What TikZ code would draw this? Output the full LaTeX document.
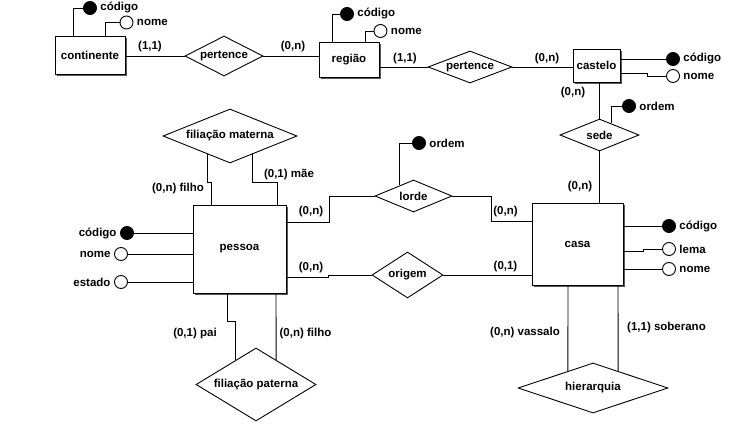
\documentclass[tikz,border=0pt]{standalone}
\usepackage{fontspec}
\setmainfont{Liberation Sans}
\usetikzlibrary{shapes.geometric,shadows,calc}
\tikzset{
  every node/.style={font=\bfseries\fontsize{11.5}{13}\selectfont},
  conn/.style={draw=black, line width=0.9pt},
  ent/.style={rectangle, draw, line width=0.9pt, fill=white, inner sep=0pt,
    drop shadow={shadow xshift=2pt, shadow yshift=-2pt, fill=black!65, opacity=1}},
  rel/.style={diamond, draw, line width=0.9pt, fill=white, inner sep=0pt},
  attr/.style={circle, draw, line width=0.9pt, fill=white, inner sep=0pt, minimum size=13pt},
  keyattr/.style={attr, fill=black},
  card/.style={inner sep=0pt}
}
\begin{document}
\begin{tikzpicture}[x=1pt,y=-1pt]
\useasboundingbox[fill=white] (0,0) rectangle (730,425);

% entities
\node[ent, minimum width=70pt, minimum height=38pt] (cont) at (90,55) {continente};
\node[ent, minimum width=60pt, minimum height=35pt] (reg) at (349,59.5) {região};
\node[ent, minimum width=47pt, minimum height=33pt] (castelo) at (596.5,65.5) {castelo};
\node[ent, minimum width=93pt, minimum height=88pt] (pessoa) at (239.5,249) {pessoa};
\node[ent, minimum width=91pt, minimum height=82pt] (casa) at (577.5,244) {casa};

% relationships
\node[rel, minimum width=78pt, minimum height=40pt, label=center:pertence] (p1) at (224,56) {};
\node[rel, minimum width=84pt, minimum height=32pt, label=center:pertence] (p2) at (470,67) {};
\node[rel, minimum width=79pt, minimum height=32pt, label=center:sede] (sede) at (599.5,135) {};
\node[rel, minimum width=77pt, minimum height=32pt, label=center:lorde] (lorde) at (413.5,196) {};
\node[rel, minimum width=71pt, minimum height=46pt, label=center:origem] (origem) at (407.5,275) {};
\node[rel, minimum width=134pt, minimum height=54pt, label=center:{filiação materna}] (fm) at (230,136) {};
\node[rel, minimum width=120pt, minimum height=73pt, label=center:{filiação paterna}] (fp) at (256,384.5) {};
\node[rel, minimum width=150pt, minimum height=50pt, label=center:hierarquia] (hi) at (593,388) {};

% attributes
\node[keyattr, label=right:código] (cc) at (90,8) {};
\node[attr, label=right:nome] (cn) at (126.5,22.5) {};
\node[keyattr, label=right:código] (rc) at (347,14) {};
\node[attr, label=right:nome] (rn) at (380.5,31) {};
\node[keyattr, label=right:código] (kc) at (673,59) {};
\node[attr, label=right:nome] (kn) at (673,76) {};
\node[keyattr, label=right:ordem] (so) at (629,106) {};
\node[keyattr, label=right:ordem] (lo) at (419,143) {};
\node[keyattr, label=right:código] (hc) at (669,226) {};
\node[attr, label=right:lema] (hl) at (669,249) {};
\node[attr, label=right:nome] (hn) at (669,269) {};
\node[keyattr, label=left:código] (pc) at (127,233) {};
\node[attr, label=left:nome] (pn) at (121,254) {};
\node[attr, label=left:estado] (pe) at (121,282) {};

% attribute connectors
\draw[conn] ([xshift=-17pt]cont.north) |- (cc.west);
\draw[conn] ([xshift=15pt]cont.north) |- (cn.west);
\draw[conn] ([xshift=-17pt]reg.north) |- (rc.west);
\draw[conn] ([xshift=16pt]reg.north) |- (rn.west);
\draw[conn] (castelo.east |- kc.west) -- (kc.west);
\draw[conn] ([yshift=-7.5pt]castelo.east) -- ++(27,0) |- (kn.west);
\draw[conn] ($(sede.north)!0.3!(sede.east)$) |- (so.west);
\draw[conn] ($(lorde.west)!0.65!(lorde.north)$) |- (lo.west);
\draw[conn] (casa.east |- hc.west) -- (hc.west);
\draw[conn] ([yshift=-7pt]casa.east) -- ++(20,0) |- (hl.west);
\draw[conn] (casa.east |- hn.west) -- (hn.west);
\draw[conn] (pc.east) -- (pc.east -| pessoa.west);
\draw[conn] (pn.east) -- (pn.east -| pessoa.west);
\draw[conn] (pe.east) -- (pe.east -| pessoa.west);

% relationship connectors
\draw[conn] (cont.east |- p1.west) -- (p1.west);
\draw[conn] (p1.east) -- (p1.east -| reg.west);
\draw[conn] (reg.east |- p2.west) -- (p2.west);
\draw[conn] (p2.east) -- (p2.east -| castelo.west);
\draw[conn] (castelo.south -| sede.north) -- (sede.north);
\draw[conn] (sede.south) -- (sede.south |- casa.north);
\draw[conn] ([yshift=27pt]pessoa.east) -- ++(43,0) |- (lorde.west);
\draw[conn] (lorde.east) -- ++(39,0) |- ([yshift=23pt]casa.west);
\draw[conn] ([yshift=-28pt]pessoa.east) -- ++(42,0) |- (origem.west);
\draw[conn] (origem.east) -- (origem.east -| casa.west);
\draw[conn] ([xshift=-28.5pt]pessoa.north) -- ++(0,-22) -| ($(fm.west)!0.67!(fm.south)$);
\draw[conn] ([xshift=37.5pt]pessoa.north) -- ++(0,-22) -| ($(fm.south)!0.33!(fm.east)$);
\draw[conn] ([xshift=-12.5pt]pessoa.south) -- ++(0,28) -| ($(fp.west)!0.667!(fp.north)$);
\draw[conn] ([xshift=36.5pt]pessoa.south) -- ($(fp.north)!0.333!(fp.east)$);
\draw[conn] ([xshift=-9.5pt]casa.south) -- ($(hi.west)!0.667!(hi.north)$);
\draw[conn] ([xshift=40.5pt]casa.south) -- ($(hi.north)!0.333!(hi.east)$);

% cardinalities
\node[card] (k1) at (150,47) {(1,1)};
\node[card] (k2) at (293,47) {(0,n)};
\node[card] (k3) at (405,59) {(1,1)};
\node[card] (k4) at (547,59) {(0,n)};
\node[card] (k5) at (573,93) {(0,n)};
\node[card] (k6) at (580,187) {(0,n)};
\node[card] (k7) at (311,212) {(0,n)};
\node[card] (k8) at (311,268) {(0,n)};
\node[card] (k9) at (505.5,212) {(0,n)};
\node[card] (k10) at (505.5,267) {(0,1)};
\node[card] (k11) at (178,189) {(0,n) filho};
\node[card] (k12) at (289,174.5) {(0,1) mãe};
\node[card] (k13) at (195,334) {(0,1) pai};
\node[card] (k14) at (305.5,334) {(0,n) filho};
\node[card] (k15) at (525,332.5) {(0,n) vassalo};
\node[card] (k16) at (666.5,328) {(1,1) soberano};
\end{tikzpicture}
\end{document}
